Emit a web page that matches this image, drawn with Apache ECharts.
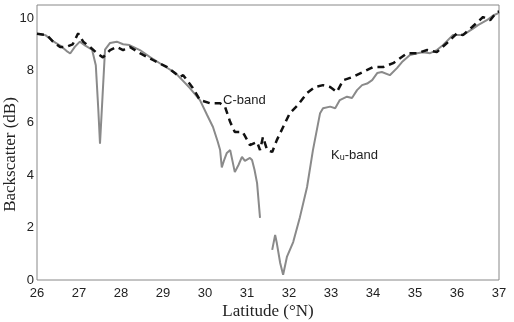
<!DOCTYPE html>
<html>
<head>
<meta charset="utf-8">
<script src="https://cdn.jsdelivr.net/npm/echarts@6/dist/echarts.min.js"></script>
<style>
html,body{margin:0;padding:0;background:#fff;}
#chart{width:514px;height:322px;}
</style>
</head>
<body>
<div id="chart"></div>
<script>
// Ku-band (gray solid), null = gap in the record
var kuLat = [26.0,26.2,26.4,26.55,26.7,26.79,26.9,27.02,27.15,27.31,27.4,27.46,27.5,27.56,27.62,27.74,27.9,28.05,28.2,28.45,28.7,29.0,29.3,29.64,29.88,30.05,30.19,30.3,30.36,30.4,30.46,30.52,30.6,30.66,30.71,30.8,30.88,30.95,31.07,31.12,31.18,31.24,31.31,31.45,31.6,31.67,31.71,31.79,31.86,31.95,32.1,32.26,32.43,32.57,32.74,32.81,32.98,33.1,33.21,33.38,33.5,33.62,33.74,33.86,33.98,34.1,34.21,34.4,34.57,34.69,34.88,35.05,35.19,35.36,35.52,35.67,35.9,36.14,36.38,36.5,36.71,36.86,37.0];
var kuVal = [9.4,9.35,9.1,8.95,8.75,8.65,8.9,9.1,8.95,8.8,8.2,6.5,5.2,7.0,8.8,9.05,9.1,9.0,8.97,8.78,8.5,8.2,7.9,7.33,6.87,6.3,5.84,5.3,4.96,4.3,4.6,4.85,4.96,4.5,4.12,4.4,4.7,4.55,4.66,4.58,4.2,3.7,2.37,null,1.15,1.72,1.41,0.65,0.2,0.88,1.45,2.4,3.55,4.96,6.37,6.56,6.62,6.56,6.87,7.0,6.95,7.25,7.44,7.5,7.63,7.9,7.94,7.82,8.09,8.32,8.59,8.66,8.7,8.66,8.78,8.97,9.35,9.35,9.6,9.73,9.92,10.1,10.2];

// C-band (black dashed)
var cLat = [26.0,26.24,26.38,26.55,26.7,26.85,26.98,27.1,27.26,27.43,27.57,27.74,27.9,28.05,28.21,28.45,28.76,29.1,29.4,29.48,29.71,29.88,30.12,30.36,30.48,30.6,30.71,30.9,31.07,31.24,31.31,31.38,31.48,31.6,31.71,31.86,32.02,32.21,32.43,32.62,32.81,32.98,33.14,33.29,33.52,33.76,34.0,34.24,34.48,34.81,35.05,35.29,35.52,35.76,36.0,36.14,36.36,36.62,36.79,36.95,37.0];
var cVal = [9.4,9.35,9.1,8.9,8.9,9.0,9.42,9.1,8.9,8.66,8.5,8.78,8.9,8.78,8.9,8.66,8.4,8.13,7.75,7.82,7.33,6.87,6.75,6.75,6.6,6.03,5.65,5.65,5.15,5.27,4.96,5.46,4.96,4.89,5.34,5.84,6.37,6.68,7.14,7.37,7.44,7.37,7.18,7.63,7.75,7.94,8.13,8.13,8.28,8.66,8.66,8.78,8.7,9.05,9.42,9.35,9.66,10.04,9.92,10.23,10.25];

var xTicks = [26,27,28,29,30,31,32,33,34,35,36,37];
var yTicks = [0,2,4,6,8,10];

function pairs(xs, ys){
  var out = [];
  for (var i = 0; i < xs.length; i++) out.push([xs[i], ys[i] === null ? '-' : ys[i]]);
  return out;
}

var myChart = echarts.init(document.getElementById('chart'));
var labelStyle = {color:'#222', fontFamily:'Liberation Sans, Arial, sans-serif', fontSize:13};
var option = {
  animation:false,
  grid:{left:37, right:15, top:5, bottom:42, show:true, borderColor:'#888', borderWidth:1, containLabel:false, outerBoundsMode:'none'},
  xAxis:{
    type:'value', min:26, max:37, interval:1,
    axisLine:{show:false}, axisTick:{show:false}, splitLine:{show:false},
    axisLabel:Object.assign({margin:7, formatter:function(v){ return xTicks.indexOf(v) >= 0 ? String(v) : ''; }}, labelStyle),
    name:'Latitude (°N)', nameLocation:'middle', nameGap:23, nameMoveOverlap:false,
    nameTextStyle:{fontFamily:'Liberation Serif, Times New Roman, serif', fontSize:17, color:'#222'}
  },
  yAxis:{
    type:'value', min:0, max:10.5, interval:2,
    axisLine:{show:false}, axisTick:{show:false}, splitLine:{show:false},
    axisLabel:Object.assign({margin:3, showMaxLabel:false, formatter:function(v){ return yTicks.indexOf(v) >= 0 ? String(v) : ''; }}, labelStyle),
    name:'Backscatter (dB)', nameLocation:'middle', nameGap:18, nameMoveOverlap:false,
    nameTextStyle:{fontFamily:'Liberation Serif, Times New Roman, serif', fontSize:17, color:'#222', padding:[0,24,0,0]}
  },
  series:[
    {
      name:'Ku-band', type:'line', data:pairs(kuLat, kuVal), showSymbol:false, connectNulls:false,
      lineStyle:{color:'#8a8a8a', width:2}
    },
    {
      name:'C-band', type:'line', data:pairs(cLat, cVal), showSymbol:false,
      lineStyle:{color:'#111', width:2.5, type:[7,5]}
    }
  ],
  graphic:[
    {type:'text', left:223, top:94, style:{text:'C-band', fill:'#222', font:'13px Liberation Sans, Arial, sans-serif'}},
    {type:'text', left:331, top:149, style:{
      text:'{a|K}{s|u}{a|-band}',
      rich:{
        a:{fontSize:13, fontFamily:'Liberation Sans, Arial, sans-serif', fill:'#222', verticalAlign:'bottom'},
        s:{fontSize:9, fontFamily:'Liberation Sans, Arial, sans-serif', fill:'#222', padding:[5,0,0,0]}
      }
    }}
  ]
};
myChart.setOption(option);
window.addEventListener('resize',()=>{ myChart.resize(); });
</script>
</body>
</html>
